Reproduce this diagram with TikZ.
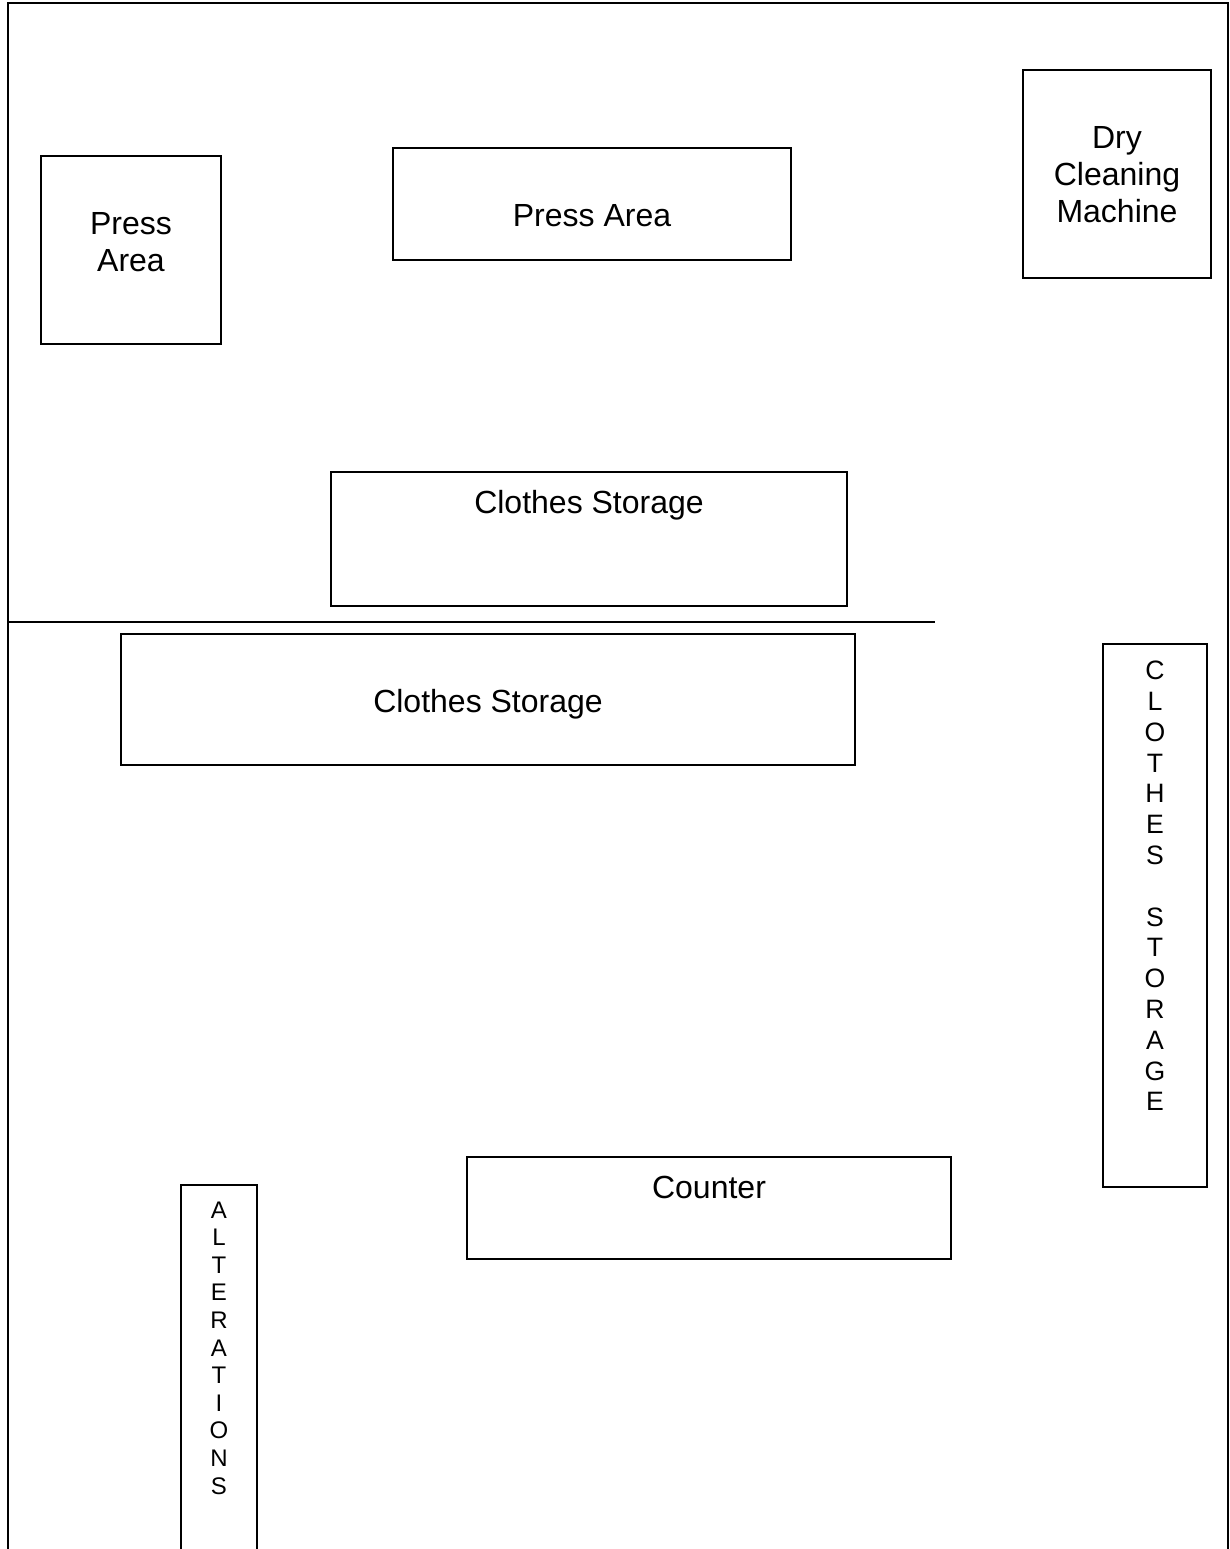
\documentclass[tikz,border=0pt]{standalone}
\usepackage{fontspec}
\setmainfont{Liberation Sans}
\usetikzlibrary{positioning}
\tikzset{
  room/.style={draw, line width=1.6pt, minimum width=#1, inner sep=0pt},
  big/.style={font=\fontsize{32}{37}\selectfont, align=center},
  mid/.style={font=\fontsize{26.6}{30.8}\selectfont, align=center},
  tiny/.style={font=\fontsize{24}{27.6}\selectfont, align=center}
}
\begin{document}
\begin{tikzpicture}[x=1pt,y=-1pt]
    \useasboundingbox (0,0) rectangle (1230,1549);
    % walls
    \coordinate (wallbl) at (8,1560);
    \coordinate (walltl) at (8,3);
    \coordinate (walltr) at (1228,3);
    \coordinate (wallbr) at (1228,1560);
    \coordinate (divl) at (9,622);
    \coordinate (divr) at (935,622);
    \draw [line width=1.6pt] (wallbl) -- (walltl) -- (walltr) -- (wallbr);
    \draw [line width=1.6pt] (divl) -- (divr);
    % back room
    \node [room=180pt, minimum height=188pt] (pressa) at (131,250) {};
    \node [big] (pressatxt) at (131,242) {Press\\Area};
    \node [room=398pt, minimum height=112pt] (pressb) at (592,204) {};
    \node [big] (pressbtxt) at (592,216) {Press Area};
    \node [room=188pt, minimum height=208pt] (dry) at (1117,174) {};
    \node [big] (drytxt) at (1117,175) {Dry\\Cleaning\\Machine};
    \node [room=516pt, minimum height=134pt] (storea) at (589,539) {};
    \node [big] (storeatxt) at (589,505) {Clothes Storage};
    % front room
    \node [room=734pt, minimum height=131pt] (storeb) at (488,699.5) {};
    \node [big] (storebtxt) at (488,704) {Clothes Storage};
    \node [room=104pt, minimum height=543pt] (storec) at (1155,915.5) {};
    \node [mid] (storectxt) at (1155,886) {C\\L\\O\\T\\H\\E\\S\\~\\S\\T\\O\\R\\A\\G\\E};
    \node [room=484pt, minimum height=102pt] (counter) at (709,1208) {};
    \node [big] (countertxt) at (709,1187) {Counter};
    \node [room=76pt, minimum height=400pt] (alter) at (219,1385) {};
    \node [tiny] (altertxt) at (219,1348) {A\\L\\T\\E\\R\\A\\T\\I\\O\\N\\S};
\end{tikzpicture}
\end{document}
